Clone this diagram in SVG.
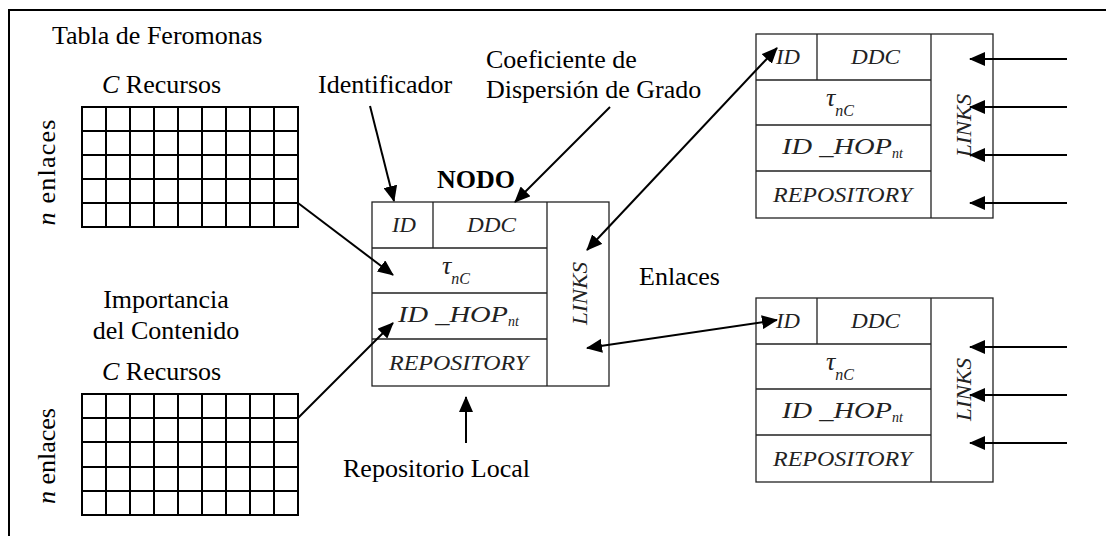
<svg xmlns="http://www.w3.org/2000/svg" width="1106" height="536" viewBox="0 0 1106 536">
<style>
text{font-family:'Liberation Serif','Times New Roman',serif}
.lbl{font-size:26px;fill:#000}
.it{font-style:italic}
.b{font-weight:bold}
.nt{font-style:italic;fill:#222}
.box{fill:#fff;stroke:#222;stroke-width:1.3}
.div{stroke:#222;stroke-width:1.3;fill:none}
.grid{stroke:#000;stroke-width:2;fill:none}
.con{stroke:#000;stroke-width:2;fill:none}
.frame{stroke:#000;stroke-width:2;fill:none}
</style>
<defs>
<marker id="ah" markerWidth="16" markerHeight="14" refX="15" refY="7" orient="auto" markerUnits="userSpaceOnUse">
<path d="M0,0 L16,7 L0,14 Z" fill="#000"/>
</marker>
<marker id="as" markerWidth="16" markerHeight="14" refX="1" refY="7" orient="auto" markerUnits="userSpaceOnUse">
<path d="M16,0 L0,7 L16,14 Z" fill="#000"/>
</marker>
</defs>
<rect width="1106" height="536" fill="#fff"/>
<g id="frame">
<line class="frame" x1="8" y1="10" x2="1106" y2="10"/>
<line class="frame" x1="9" y1="9" x2="9" y2="536"/>
</g>

<g id="table-feromonas">
<text class="lbl" x="52" y="44">Tabla de Feromonas</text>
<text class="lbl" x="102" y="93"><tspan class="it">C</tspan> Recursos</text>
<text class="lbl" transform="rotate(-90 55 172.5)" x="55" y="172.5" text-anchor="middle" textLength="106" lengthAdjust="spacing"><tspan class="it">n</tspan> enlaces</text>
<rect class="grid" x="82" y="107" width="216" height="120"/>
<path class="grid" d="M106,107V227M130,107V227M154,107V227M178,107V227M202,107V227M226,107V227M250,107V227M274,107V227M82,131H298M82,155H298M82,179H298M82,203H298"/>
</g>

<g id="table-importancia">
<text class="lbl" x="166" y="308" text-anchor="middle">Importancia</text>
<text class="lbl" x="166" y="339" text-anchor="middle">del Contenido</text>
<text class="lbl" x="102" y="380"><tspan class="it">C</tspan> Recursos</text>
<text class="lbl" transform="rotate(-90 55 456)" x="55" y="456" text-anchor="middle"><tspan class="it">n</tspan> enlaces</text>
<rect class="grid" x="82" y="394" width="216" height="121"/>
<path class="grid" d="M106,394V515M130,394V515M154,394V515M178,394V515M202,394V515M226,394V515M250,394V515M274,394V515M82,418H298M82,442H298M82,467H298M82,491H298"/>
</g>

<g id="label-identificador"><text class="lbl" x="318" y="93">Identificador</text></g>
<g id="label-coeficiente">
<text class="lbl" x="486" y="68">Coeficiente de</text>
<text class="lbl" x="486" y="98">Dispersión de Grado</text>
</g>
<g id="label-enlaces"><text class="lbl" x="639" y="285">Enlaces</text></g>
<g id="label-repositorio"><text class="lbl" x="343" y="477">Repositorio Local</text></g>
<g id="label-nodo"><text class="lbl b" x="437" y="188">NODO</text></g>

<g id="node-main" transform="translate(372,202)">
<rect class="box" x="0" y="0" width="237" height="184"/>
<path class="div" d="M175,0V184M0,46H175M61,0V46M0,91H175M0,137H175"/>
<text class="nt" x="20" y="30" font-size="21" textLength="24" lengthAdjust="spacingAndGlyphs">ID</text>
<text class="nt" x="95" y="30" font-size="21" textLength="49" lengthAdjust="spacingAndGlyphs">DDC</text>
<text class="nt" x="70" y="72" font-size="26">τ<tspan font-size="16" dy="10">nC</tspan></text>
<text class="nt" x="26" y="120" font-size="24" textLength="110" lengthAdjust="spacingAndGlyphs">ID _HOP</text>
<text class="nt" x="136" y="124" font-size="14">nt</text>
<text class="nt" x="17" y="168" font-size="21" textLength="139" lengthAdjust="spacingAndGlyphs">REPOSITORY</text>
<text class="nt" transform="rotate(-90 215 91.5)" x="215" y="91.5" font-size="21" text-anchor="middle" textLength="63" lengthAdjust="spacingAndGlyphs">LINKS</text>
</g>

<g id="node-top-right" transform="translate(756,34)">
<rect class="box" x="0" y="0" width="237" height="184"/>
<path class="div" d="M175,0V184M0,46H175M61,0V46M0,91H175M0,137H175"/>
<text class="nt" x="20" y="30" font-size="21" textLength="24" lengthAdjust="spacingAndGlyphs">ID</text>
<text class="nt" x="95" y="30" font-size="21" textLength="49" lengthAdjust="spacingAndGlyphs">DDC</text>
<text class="nt" x="70" y="72" font-size="26">τ<tspan font-size="16" dy="10">nC</tspan></text>
<text class="nt" x="26" y="120" font-size="24" textLength="110" lengthAdjust="spacingAndGlyphs">ID _HOP</text>
<text class="nt" x="136" y="124" font-size="14">nt</text>
<text class="nt" x="17" y="168" font-size="21" textLength="139" lengthAdjust="spacingAndGlyphs">REPOSITORY</text>
<text class="nt" transform="rotate(-90 215 91.5)" x="215" y="91.5" font-size="21" text-anchor="middle" textLength="63" lengthAdjust="spacingAndGlyphs">LINKS</text>
</g>

<g id="node-bottom-right" transform="translate(756,298)">
<rect class="box" x="0" y="0" width="237" height="184"/>
<path class="div" d="M175,0V184M0,46H175M61,0V46M0,91H175M0,137H175"/>
<text class="nt" x="20" y="30" font-size="21" textLength="24" lengthAdjust="spacingAndGlyphs">ID</text>
<text class="nt" x="95" y="30" font-size="21" textLength="49" lengthAdjust="spacingAndGlyphs">DDC</text>
<text class="nt" x="70" y="72" font-size="26">τ<tspan font-size="16" dy="10">nC</tspan></text>
<text class="nt" x="26" y="120" font-size="24" textLength="110" lengthAdjust="spacingAndGlyphs">ID _HOP</text>
<text class="nt" x="136" y="124" font-size="14">nt</text>
<text class="nt" x="17" y="168" font-size="21" textLength="139" lengthAdjust="spacingAndGlyphs">REPOSITORY</text>
<text class="nt" transform="rotate(-90 215 91.5)" x="215" y="91.5" font-size="21" text-anchor="middle" textLength="63" lengthAdjust="spacingAndGlyphs">LINKS</text>
</g>

<g id="connectors">
<line class="con" x1="370" y1="106" x2="394" y2="201" marker-end="url(#ah)"/>
<line class="con" x1="610" y1="107" x2="515" y2="202" marker-end="url(#ah)"/>
<line class="con" x1="298" y1="203" x2="393" y2="275" marker-end="url(#ah)"/>
<line class="con" x1="298" y1="418" x2="393" y2="323" marker-end="url(#ah)"/>
<line class="con" x1="587" y1="250" x2="777" y2="48" marker-start="url(#as)" marker-end="url(#ah)"/>
<line class="con" x1="587" y1="348" x2="777" y2="320" marker-start="url(#as)" marker-end="url(#ah)"/>
<line class="con" x1="466" y1="443" x2="466" y2="397" marker-end="url(#ah)"/>
<line class="con" x1="1067" y1="59" x2="970" y2="59" marker-end="url(#ah)"/>
<line class="con" x1="1067" y1="107" x2="970" y2="107" marker-end="url(#ah)"/>
<line class="con" x1="1067" y1="155" x2="970" y2="155" marker-end="url(#ah)"/>
<line class="con" x1="1067" y1="203" x2="970" y2="203" marker-end="url(#ah)"/>
<line class="con" x1="1067" y1="347" x2="970" y2="347" marker-end="url(#ah)"/>
<line class="con" x1="1067" y1="395" x2="970" y2="395" marker-end="url(#ah)"/>
<line class="con" x1="1067" y1="443" x2="970" y2="443" marker-end="url(#ah)"/>
</g>
</svg>
